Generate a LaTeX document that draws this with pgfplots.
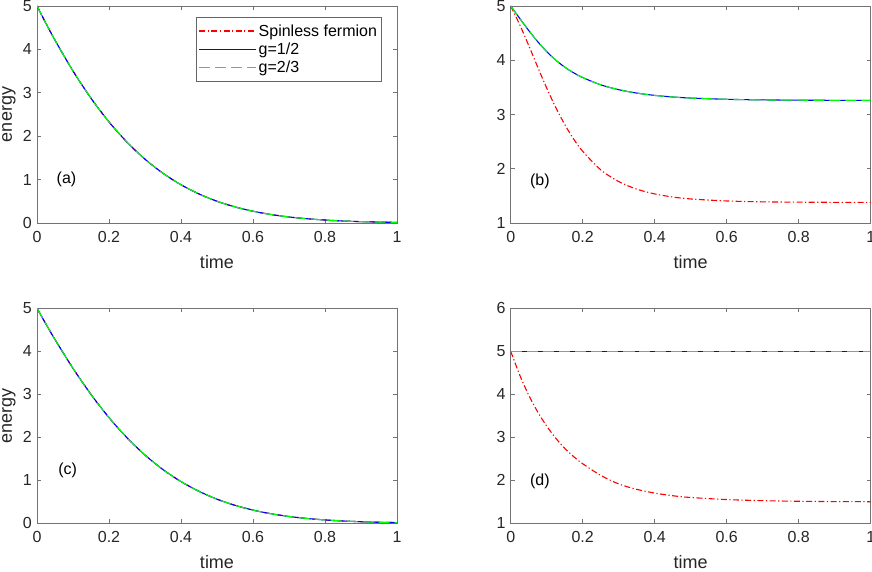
\documentclass[border=0pt]{standalone}
\usepackage{fontspec}
\setmainfont{Liberation Sans}
\usepackage{pgfplots}
\pgfplotsset{compat=1.18}
\usepackage{pgfplotstable}

\definecolor{axgray}{rgb}{0.45,0.45,0.45}
\definecolor{txtgray}{rgb}{0.15,0.15,0.15}

% panel (a): all three curves coincide
\pgfplotstableread{
t E
0 5.000
0.025 4.597
0.05 4.212
0.10 3.502
0.15 2.875
0.20 2.329
0.25 1.863
0.30 1.470
0.35 1.146
0.40 0.881
0.45 0.669
0.50 0.501
0.55 0.371
0.60 0.271
0.65 0.195
0.70 0.139
0.75 0.098
0.80 0.068
0.85 0.046
0.90 0.031
0.95 0.021
1.00 0.014
}\dataA

% panel (c): all three curves coincide
\pgfplotstableread{
t E
0 5.000
0.025 4.631
0.05 4.274
0.10 3.604
0.15 2.997
0.20 2.458
0.25 1.989
0.30 1.587
0.35 1.249
0.40 0.970
0.45 0.743
0.50 0.561
0.55 0.418
0.60 0.307
0.65 0.222
0.70 0.159
0.75 0.112
0.80 0.078
0.85 0.054
0.90 0.036
0.95 0.024
1.00 0.016
}\dataC

% panel (b): g curves
\pgfplotstableread{
t E
0 5.000
0.025 4.772
0.05 4.549
0.075 4.342
0.10 4.159
0.125 4.003
0.15 3.874
0.175 3.768
0.20 3.681
0.25 3.547
0.30 3.457
0.35 3.395
0.40 3.352
0.45 3.323
0.50 3.303
0.60 3.280
0.70 3.269
0.80 3.264
0.90 3.261
1.00 3.260
}\dataBg

% panel (b): spinless fermion
\pgfplotstableread{
t E
0 5.000
0.025 4.656
0.05 4.272
0.075 3.874
0.10 3.487
0.125 3.132
0.15 2.817
0.175 2.546
0.20 2.321
0.25 1.981
0.30 1.764
0.35 1.624
0.40 1.536
0.45 1.479
0.50 1.443
0.60 1.406
0.70 1.390
0.80 1.384
0.90 1.381
1.00 1.380
}\dataBs

% panel (d): g curves
\pgfplotstableread{
t E
0 5.00
0.25 5.00
0.50 5.00
0.75 5.00
1.00 5.00
}\dataDg

% panel (d): spinless fermion
\pgfplotstableread{
t E
0 5.000
0.025 4.450
0.05 3.980
0.075 3.590
0.10 3.260
0.125 2.980
0.15 2.745
0.175 2.550
0.20 2.385
0.25 2.115
0.30 1.915
0.35 1.790
0.40 1.702
0.45 1.641
0.50 1.600
0.60 1.552
0.70 1.526
0.80 1.512
0.90 1.505
1.00 1.502
}\dataDs

\tikzset{
  plab/.style={font=\fontsize{16}{19}\selectfont, text=black},
}
\pgfplotsset{
  sfstyle/.style={color=red, line width=1.1pt, dash pattern=on 6pt off 2.5pt on 1.2pt off 2.5pt, smooth},
  gastyle/.style={color=blue, line width=1.1pt, solid, smooth},
  gbstyle/.style={color=green, line width=1.1pt, dash pattern=on 11pt off 5pt, smooth},
  mstyle/.style={
    scale only axis, width=360pt, anchor=south west,
    xmin=0, xmax=1, xtick={0,0.2,0.4,0.6,0.8,1},
    tick align=inside, major tick length=4pt,
    axis line style={axgray, line width=0.7pt},
    every tick/.style={axgray, line width=0.7pt},
    tick label style={font=\fontsize{16}{19}\selectfont, text=txtgray},
    /pgf/number format/assume math mode=true,
    xticklabel style={yshift=-4.5pt},
    yticklabel style={xshift=-1.7pt},
    label style={font=\fontsize{18}{21}\selectfont, text=txtgray},
    xlabel={time},
  },
}

\begin{document}
\begin{tikzpicture}
% (a)
\begin{axis}[mstyle, at={(37pt,349pt)}, height=217pt,
  ymin=0, ymax=5, ytick={0,1,2,3,4,5},
  ylabel={energy},
  xlabel style={at={(axis description cs:0.5,-0.1797)}, anchor=center},
  ylabel style={at={(axis description cs:-0.078,0.5)}, anchor=center},
  legend style={at={(0.956,0.948)}, anchor=north east, draw=black!60,
    font=\fontsize{16}{19}\selectfont, row sep=1pt, inner xsep=2pt, inner ysep=5pt},
  legend cell align=left]
\addlegendimage{legend image code/.code={\draw[red, line width=1.1pt, dash pattern=on 6pt off 2.5pt on 1.2pt off 2.5pt] (0pt,0pt) -- (57pt,0pt);}}
\addlegendentry{Spinless fermion}
\addlegendimage{legend image code/.code={\draw[blue, line width=1.1pt, solid] (0pt,0pt) -- (57pt,0pt);}}
\addlegendentry{g=1/2}
\addlegendimage{legend image code/.code={\draw[green, line width=1.1pt, dash pattern=on 11pt off 5pt] (0pt,0pt) -- (57pt,0pt);}}
\addlegendentry{g=2/3}
\addplot[sfstyle, forget plot] table[x=t,y=E] {\dataA};
\addplot[gastyle, forget plot] table[x=t,y=E] {\dataA};
\addplot[gbstyle, forget plot] table[x=t,y=E] {\dataA};
\node[plab] at (axis cs:0.082,1.0) {(a)};
\end{axis}
% (b)
\begin{axis}[mstyle, at={(510.7pt,349pt)}, height=217pt,
  ymin=1, ymax=5, ytick={1,2,3,4,5},
  xlabel style={at={(axis description cs:0.5,-0.1797)}, anchor=center}]
\addplot[sfstyle] table[x=t,y=E] {\dataBs};
\addplot[gastyle] table[x=t,y=E] {\dataBg};
\addplot[gbstyle] table[x=t,y=E] {\dataBg};
\node[plab] at (axis cs:0.081,1.76) {(b)};
\end{axis}
% (c)
\begin{axis}[mstyle, at={(37pt,48.7pt)}, height=215pt,
  ymin=0, ymax=5, ytick={0,1,2,3,4,5},
  ylabel={energy},
  xlabel style={at={(axis description cs:0.5,-0.1814)}, anchor=center},
  ylabel style={at={(axis description cs:-0.078,0.5)}, anchor=center}]
\addplot[sfstyle] table[x=t,y=E] {\dataC};
\addplot[gastyle] table[x=t,y=E] {\dataC};
\addplot[gbstyle] table[x=t,y=E] {\dataC};
\node[plab] at (axis cs:0.085,1.24) {(c)};
\end{axis}
% (d)
\begin{axis}[mstyle, at={(510.7pt,48.7pt)}, height=215pt,
  ymin=1, ymax=6, ytick={1,2,3,4,5,6},
  xlabel style={at={(axis description cs:0.5,-0.1814)}, anchor=center}]
\addplot[sfstyle] table[x=t,y=E] {\dataDs};
\addplot[gastyle] table[x=t,y=E] {\dataDg};
\addplot[gbstyle] table[x=t,y=E] {\dataDg};
\node[plab] at (axis cs:0.081,1.97) {(d)};
\end{axis}
\pgfresetboundingbox
\path[use as bounding box] (0pt,0pt) rectangle (872pt,572pt);
\end{tikzpicture}
\end{document}
